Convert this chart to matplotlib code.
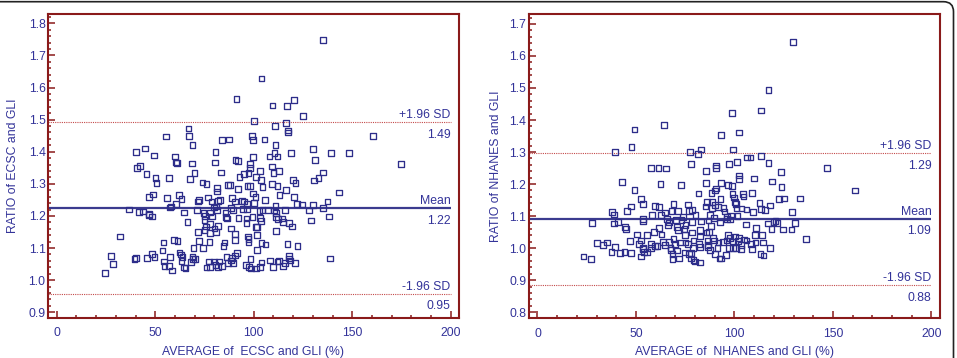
import matplotlib
matplotlib.use('Agg')
import matplotlib.pyplot as plt
from matplotlib.ticker import MultipleLocator, FormatStrFormatter
from matplotlib.patches import FancyBboxPatch
from matplotlib.transforms import IdentityTransform

plt.rcParams['font.family'] = ['Liberation Sans', 'DejaVu Sans']

# ---------------- data: left panel (ECSC vs GLI) ----------------
ecsc_avg = [
    135, 104, 91.3, 120.4, 109.5, 116.8, 125, 100, 116.3, 110.7,
    117.3, 117.3, 160.4, 174.9, 66.9, 67.2, 55.3, 68.9, 83.7, 87.6,
    99.2, 99.8, 105.4, 111, 40.4, 44.9, 49.2, 80.6, 99.5, 108,
    110.5, 112, 119, 129.9, 131.2, 139.4, 148.4, 60.1, 60.4, 60.9,
    68.8, 80.3, 90.8, 92, 98, 98.1, 40.9, 42.4, 45.5, 50.1,
    50.6, 57, 69.9, 67.7, 83.4, 92.7, 94.9, 97.3, 103.1, 101.2,
    103.6, 109.2, 110, 112.7, 130.7, 132.9, 135.3, 74, 76, 86.8,
    88, 91.9, 96.8, 98.1, 109.2, 112, 119.9, 121.2, 104.4, 81.3,
    81.2, 116.3, 113.1, 99.5, 100.9, 143.1, 47, 48.7, 55.9, 62,
    63.3, 60.4, 58.1, 57.6, 71.8, 72.2, 76.7, 78.6, 82, 82.7,
    89.1, 90.3, 94.2, 95.2, 96.6, 100, 105.6, 111, 120.4, 121.9,
    124.6, 129.9, 137.5, 135.1,
    36.7, 41.9, 43.8, 46.7, 47, 48.2, 64.5, 71.1, 74.5, 77.9,
    79.9, 80.8, 81.5, 85.7, 88.6, 89.3, 94.7, 96.7, 102.9, 104.4,
    107.3, 110.4, 111.2, 116, 128,
    66.4, 75.4, 75, 78.8, 85.9, 86.5, 92.2, 96.3, 99.3, 103,
    103.7, 111.4, 112.4, 114.3, 114.8, 118, 119.5, 128.9, 138.2,
    75.6, 77.8, 80.1, 82, 88.3, 96.3, 101, 101.8,
    71.6, 75, 77.8, 80.8, 90.3, 111.4, 101.5, 97.1, 97.3, 90.3,
    32.1, 54.2, 59.6, 61.3, 72.1, 77.6, 85.2, 84.6, 97.4, 103.9,
    106, 117.1, 122.2,
    53.7, 69.4, 74.4, 101.5, 91.5, 90.5, 62.3, 63,
    27.5, 28.5, 24.4, 39.4, 40.2, 45.8, 48.4, 49.6, 57.6, 54.3,
    54.7, 57.1, 58.4, 63.8, 63.3, 64.5, 65.4, 68.1, 68.9, 69.3,
    70.3, 76, 77.4, 77.8, 80, 80.6, 81.8, 82.3, 84, 86.2,
    86.9, 88.6, 89.3, 89.1, 95.9, 97.5, 98.3, 98.6, 101, 103.1,
    103.9, 108.1, 109.8, 112, 112.7, 114.9, 116, 117.8, 118, 118.5,
    120.9, 138.7,
]
ecsc_ratio = [
    1.748, 1.628, 1.564, 1.561, 1.544, 1.543, 1.511, 1.495, 1.49, 1.48,
    1.466, 1.46, 1.45, 1.362, 1.472, 1.449, 1.447, 1.421, 1.437, 1.438,
    1.448, 1.437, 1.438, 1.421, 1.399, 1.41, 1.388, 1.398, 1.384, 1.385,
    1.395, 1.385, 1.397, 1.408, 1.374, 1.395, 1.395, 1.385, 1.366, 1.364,
    1.363, 1.366, 1.374, 1.372, 1.361, 1.35, 1.35, 1.355, 1.33, 1.319,
    1.302, 1.319, 1.333, 1.315, 1.335, 1.322, 1.33, 1.333, 1.341, 1.322,
    1.312, 1.354, 1.333, 1.341, 1.31, 1.319, 1.335, 1.304, 1.3, 1.297,
    1.297, 1.283, 1.294, 1.294, 1.299, 1.294, 1.312, 1.302, 1.289, 1.288,
    1.276, 1.281, 1.266, 1.27, 1.258, 1.273, 1.259, 1.267, 1.256, 1.266,
    1.253, 1.237, 1.229, 1.226, 1.245, 1.25, 1.257, 1.245, 1.247, 1.25,
    1.256, 1.245, 1.247, 1.245, 1.238, 1.241, 1.25, 1.232, 1.26, 1.238,
    1.236, 1.233, 1.245, 1.224,
    1.22, 1.213, 1.214, 1.207, 1.203, 1.198, 1.211, 1.219, 1.208, 1.211,
    1.226, 1.229, 1.219, 1.211, 1.224, 1.219, 1.221, 1.221, 1.216, 1.219,
    1.219, 1.217, 1.208, 1.219, 1.217,
    1.182, 1.2, 1.188, 1.198, 1.196, 1.192, 1.193, 1.192, 1.196, 1.193,
    1.185, 1.196, 1.19, 1.192, 1.182, 1.177, 1.167, 1.186, 1.198,
    1.167, 1.175, 1.161, 1.169, 1.161, 1.177, 1.165, 1.165,
    1.151, 1.156, 1.146, 1.151, 1.143, 1.153, 1.141, 1.136, 1.127, 1.125,
    1.136, 1.117, 1.125, 1.121, 1.122, 1.118, 1.117, 1.107, 1.117, 1.115,
    1.111, 1.113, 1.107,
    1.092, 1.1, 1.101, 1.094, 1.084, 1.077, 1.086, 1.08,
    1.075, 1.05, 1.023, 1.066, 1.068, 1.068, 1.082, 1.073, 1.073, 1.058,
    1.045, 1.045, 1.03, 1.073, 1.059, 1.039, 1.037, 1.056, 1.073, 1.066,
    1.066, 1.039, 1.058, 1.042, 1.058, 1.047, 1.042, 1.058, 1.044, 1.073,
    1.053, 1.061, 1.053, 1.068, 1.047, 1.042, 1.065, 1.036, 1.036, 1.042,
    1.055, 1.061, 1.042, 1.058, 1.06, 1.044, 1.053, 1.075, 1.067, 1.061,
    1.053, 1.067,
]
ecsc_mean, ecsc_upper, ecsc_lower = 1.224, 1.492, 0.957
ecsc_labels = ['1.49', '1.22', '0.95']

# ---------------- data: right panel (NHANES vs GLI) ----------------
nhanes_avg = [
    129.8, 117.3, 113.6, 98.6, 49.3, 64.2, 93.1, 102.2, 39.2, 47.8,
    77.3, 81.5, 82.9, 99.3, 113.6, 106.3, 108.1, 77.8, 57.5, 61.5,
    65.3, 90.5, 90.7, 97.3, 101.2, 117.3, 147, 85.6, 123.7, 102.2,
    102.4, 110, 43, 62.4, 72.9, 85.6, 93.1, 96.6, 98.8, 119,
    123.9, 49.3, 161.2, 81.7, 88.3, 90.2, 90.8, 99, 99.8, 104.2,
    104.6, 108.8, 52.5, 53.4, 92.9, 100.2, 100.8, 101, 103.6, 106.1,
    109.5, 112.7, 113.4, 115.4, 118.1, 122.5, 125.1, 133.2, 129.2, 47.5,
    45.3, 59.8, 61.7, 69, 76.3, 78.6, 86.1, 88.6, 85.3, 88.6,
    90.2, 91.5, 94.4, 94.9, 38, 39, 58, 62.7, 64.9, 68,
    71.2, 73.7, 76.8, 80.2, 87.6, 89.5, 96.3, 98.3, 101.5, 53.7,
    53.6, 27.8, 38.8, 40.7, 65.6, 66.9, 70.5, 73.1, 75.1, 78.3,
    82.9, 86.8, 88.1, 92.7, 96.1, 97.8, 105.8, 110.8, 117.1, 119.8,
    120.8, 121.9, 118.8, 124.6, 128.9, 130.7, 44.4, 45.1, 50.5, 55.6,
    59.3, 61.7, 62.9, 66.1, 70.8, 71.4, 74.7, 74.9, 78.5, 82.4,
    82.5, 85.8, 86.9, 89, 96.9, 97.8, 100.2, 102.2, 104.9, 110.3,
    113.9, 136.3, 30.2, 33.1, 35.3, 46.8, 52.4, 51.5, 53.7, 57.6,
    59.7, 63.7, 64.7, 66.8, 69, 69.7, 72.4, 75.1, 76.3, 79.2,
    82, 86.3, 86.4, 89.8, 91.9, 94.2, 95.9, 99.2, 101.9, 103.4,
    106.1, 108.3, 110.7, 114.4, 39.3, 37.6, 41.9, 44.2, 47.5, 53.4,
    54.2, 55.6, 57.8, 61, 67.6, 67.8, 68.6, 68.5, 70.8, 71.9,
    74.9, 76.8, 78.1, 79, 78, 79.2, 80, 82.4, 82.4, 86.6,
    87.6, 90.2, 91.4, 92.4, 93.2, 95.6, 97.1, 99.2, 100.8, 103.2,
    109, 113.2, 114.7, 118, 23.4, 27.1, 52.5,
]
nhanes_ratio = [
    1.644, 1.493, 1.43, 1.421, 1.37, 1.385, 1.353, 1.361, 1.3, 1.316,
    1.3, 1.295, 1.308, 1.308, 1.288, 1.283, 1.283, 1.263, 1.251, 1.251,
    1.249, 1.258, 1.251, 1.263, 1.268, 1.265, 1.251, 1.24, 1.238, 1.227,
    1.216, 1.217, 1.207, 1.2, 1.197, 1.203, 1.204, 1.197, 1.194, 1.208,
    1.191, 1.182, 1.18, 1.171, 1.173, 1.18, 1.186, 1.169, 1.158, 1.168,
    1.161, 1.173, 1.154, 1.138, 1.154, 1.145, 1.137, 1.124, 1.124, 1.121,
    1.112, 1.141, 1.122, 1.119, 1.133, 1.154, 1.155, 1.155, 1.113, 1.13,
    1.116, 1.132, 1.128, 1.138, 1.136, 1.118, 1.144, 1.143, 1.13, 1.125,
    1.134, 1.128, 1.125, 1.114, 1.112, 1.105, 1.104, 1.104, 1.111, 1.115,
    1.115, 1.098, 1.115, 1.103, 1.104, 1.093, 1.098, 1.102, 1.101, 1.091,
    1.085, 1.079, 1.077, 1.081, 1.09, 1.08, 1.088, 1.088, 1.073, 1.081,
    1.083, 1.086, 1.069, 1.08, 1.091, 1.089, 1.074, 1.064, 1.077, 1.081,
    1.085, 1.078, 1.06, 1.058, 1.058, 1.078, 1.065, 1.059, 1.043, 1.04,
    1.05, 1.062, 1.043, 1.071, 1.065, 1.057, 1.059, 1.041, 1.049, 1.057,
    1.036, 1.049, 1.05, 1.031, 1.04, 1.031, 1.036, 1.032, 1.027, 1.04,
    1.04, 1.028, 1.017, 1.009, 1.018, 1.022, 1.024, 1.013, 1.0, 1.014,
    1.007, 1.02, 1.01, 1.02, 1.028, 1.012, 1.018, 1.018, 1.014, 1.024,
    1.012, 1.024, 1.01, 1.024, 1.018, 1.02, 1.024, 1.021, 1.022, 1.01,
    1.024, 1.012, 1.018, 1.018, 1.003, 0.989, 0.984, 0.987, 0.984, 0.997,
    0.987, 0.989, 1.0, 1.007, 1.0, 0.995, 0.981, 0.965, 0.993, 0.968,
    0.986, 0.982, 0.984, 1.0, 0.968, 0.963, 0.958, 0.955, 1.003, 1.003,
    0.995, 0.982, 1.0, 0.968, 0.968, 0.979, 1.0, 1.0, 1.0, 0.997,
    0.998, 0.982, 0.977, 1.001, 0.974, 0.965, 0.974,
]
nhanes_mean, nhanes_upper, nhanes_lower = 1.091, 1.296, 0.884
nhanes_labels = ['1.29', '1.09', '0.88']

x_ticks = [0, 50, 100, 150, 200]

# ---------------- style ----------------
NAVY = '#333399'
MARK = '#2d2d8a'
DARKRED = '#8a1a1a'
SDRED = '#c44a4a'
FS = 8.8

W, H = 957, 358
fig = plt.figure(figsize=(W / 100, H / 100), dpi=100)


def px_axes(l, t, r, b):
    return [l / W, 1 - b / H, (r - l) / W, (b - t) / H]


def panel(ax, x, y, ylim, ymajor, mean, up, lo, vals, xlabel, ylabel):
    ax.set_xlim(-4.3, 204.2)
    ax.set_ylim(*ylim)
    x0 = ax.get_xlim()[0]
    ax.scatter(x, y, marker='s', s=17, facecolors='none', edgecolors=MARK,
               linewidths=0.95, zorder=3)
    ax.hlines(mean, x0, 200, colors='#3b3b8f', lw=1.6, zorder=2)
    ax.hlines([up, lo], x0, 200, colors=SDRED, lw=0.8,
              linestyles=(0, (1, 1)), zorder=2)
    for val, top_txt, bot_txt in [(up, '+1.96 SD', vals[0]),
                                  (mean, 'Mean', vals[1]),
                                  (lo, '-1.96 SD', vals[2])]:
        ax.annotate(top_txt, xy=(200, val), xytext=(0, 0.6),
                    textcoords='offset points', ha='right', va='bottom',
                    color=NAVY, fontsize=FS)
        ax.annotate(bot_txt, xy=(200, val), xytext=(0, -4.6),
                    textcoords='offset points', ha='right', va='top',
                    color=NAVY, fontsize=FS)
    ax.set_xticks(x_ticks)
    ax.xaxis.set_minor_locator(MultipleLocator(10))
    ax.yaxis.set_major_locator(MultipleLocator(0.1))
    ax.yaxis.set_minor_locator(MultipleLocator(0.02))
    ax.yaxis.set_major_formatter(FormatStrFormatter('%.1f'))
    ax.tick_params(which='both', direction='in', color=DARKRED,
                   labelcolor=NAVY, labelsize=FS, width=1.1)
    ax.tick_params(which='major', length=5)
    ax.tick_params(which='minor', length=2.2)
    ax.tick_params(axis='x', which='both', pad=7)
    ax.tick_params(axis='y', which='both', pad=2)
    for s in ax.spines.values():
        s.set_color(DARKRED)
        s.set_linewidth(1.5)


ax1 = fig.add_axes(px_axes(48.3, 14.3, 459, 317.7))
panel(ax1, ecsc_avg, ecsc_ratio, (0.883, 1.828), 0.1,
      ecsc_mean, ecsc_upper, ecsc_lower, ecsc_labels,
      'AVERAGE of  ECSC and GLI (%)', 'RATIO of ECSC and GLI')
ax2 = fig.add_axes(px_axes(529, 14.3, 939.7, 318.3))
panel(ax2, nhanes_avg, nhanes_ratio, (0.781, 1.730), 0.1,
      nhanes_mean, nhanes_upper, nhanes_lower, nhanes_labels,
      'AVERAGE of  NHANES and GLI (%)', 'RATIO of NHANES and GLI')

fig.text(253 / W, 1 - 351.7 / H, 'AVERAGE of  ECSC and GLI (%)',
         ha='center', va='center', color=NAVY, fontsize=FS)
fig.text(734.7 / W, 1 - 351.7 / H, 'AVERAGE of  NHANES and GLI (%)',
         ha='center', va='center', color=NAVY, fontsize=FS)
fig.text(12.7 / W, 1 - 166 / H, 'RATIO of ECSC and GLI', rotation=90,
         ha='center', va='center', color=NAVY, fontsize=FS)
fig.text(496 / W, 1 - 166 / H, 'RATIO of NHANES and GLI', rotation=90,
         ha='center', va='center', color=NAVY, fontsize=FS)

border = FancyBboxPatch((-30, -30), 983.5, 386.3,
                        boxstyle='round,pad=0,rounding_size=10',
                        transform=IdentityTransform(), fill=False,
                        ec='#222222', lw=1.2)
fig.add_artist(border)

fig.savefig('out.png', dpi=100)
